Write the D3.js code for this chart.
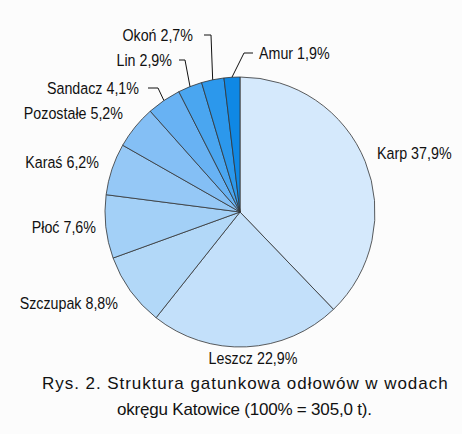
<!DOCTYPE html>
<html>
<head>
<meta charset="utf-8">
<script src="https://cdn.jsdelivr.net/npm/d3@7"></script>
<style>
  body { margin: 0; background: #fcfcfc; }
  svg { display: block; }
</style>
</head>
<body>
<div id="chart"></div>
<script>
// data (share of catch, %)
var species = ["Karp", "Leszcz", "Szczupak", "Płoć", "Karaś", "Pozostałe", "Sandacz", "Lin", "Okoń", "Amur"];
var shares = [37.9, 22.9, 8.8, 7.6, 6.2, 5.2, 4.1, 2.9, 2.7, 1.9];
var captionLines = ["Rys. 2. Struktura gatunkowa odłowów w wodach", "okręgu Katowice (100% = 305,0 t)."];

var palette = ["#d5e9fc", "#c3e0fa", "#b2d8f8", "#a3d0f7", "#95c8f6", "#84bff5", "#68b2f3", "#4aa6f0", "#2c98ec", "#0f88e5"];

var svgWidth = 462;
var svgHeight = 434;
var cx = 240, cy = 212, radius = 135;

// label placement: [x, y, anchor, elbowX1, elbowX2] (elbow null = no leader)
var labelLayout = [
  [377, 153, "start", null, null],
  [253, 358, "middle", null, null],
  [118, 303, "end", null, null],
  [96, 227, "end", null, null],
  [99, 162, "end", null, null],
  [123, 113, "end", null, null],
  [139, 88, "end", 148, 158],
  [172, 60, "end", 179, 185],
  [193, 35, "end", 204, 211],
  [259, 53, "start", 253, 244]
];

var data = species.map(function(s, i) { return { name: s, value: shares[i] }; });

var color = d3.scaleOrdinal().domain(species).range(palette);

var svg = d3.select("#chart")
  .append("svg")
  .attr("width", svgWidth)
  .attr("height", svgHeight);

svg.append("rect")
  .attr("width", svgWidth)
  .attr("height", svgHeight)
  .attr("fill", "#fcfcfc");

var pie = d3.pie().sort(null).value(function(d) { return d.value; });
var arc = d3.arc().innerRadius(0).outerRadius(radius);
var arcs = pie(data);

var pieGroup = svg.append("g")
  .attr("transform", "translate(" + cx + "," + cy + ")");

pieGroup.selectAll("path")
  .data(arcs)
  .enter()
  .append("path")
  .attr("d", arc)
  .attr("fill", function(d) { return color(d.data.name); })
  .attr("stroke", "#333")
  .attr("stroke-width", 0.8)
  .attr("stroke-linejoin", "round");

var fmt = d3.format(".1f");

// leader lines
arcs.forEach(function(d, i) {
  var lay = labelLayout[i];
  if (lay[3] === null) return;
  var mid = (d.startAngle + d.endAngle) / 2;
  var ex = cx + radius * Math.sin(mid);
  var ey = cy - radius * Math.cos(mid);
  var ly = lay[1];
  svg.append("polyline")
    .attr("points", [[lay[3], ly], [lay[4], ly], [ex, ey]].map(function(p) { return p.join(","); }).join(" "))
    .attr("fill", "none")
    .attr("stroke", "#111")
    .attr("stroke-width", 1);
});

// labels, squeezed horizontally to look like the narrow face of the original
svg.append("g")
  .selectAll("text")
  .data(arcs)
  .enter()
  .append("text")
  .attr("transform", function(d, i) {
    return "translate(" + labelLayout[i][0] + "," + labelLayout[i][1] + ") scale(0.84,1)";
  })
  .attr("dy", "0.36em")
  .attr("text-anchor", function(d, i) { return labelLayout[i][2]; })
  .style("font-family", "'Liberation Sans', Arial, sans-serif")
  .style("font-size", "17px")
  .style("fill", "#111")
  .text(function(d) { return d.data.name + " " + fmt(d.data.value).replace(".", ",") + "%"; });

// caption
svg.append("text")
  .attr("x", 42)
  .attr("y", 389)
  .style("font-family", "'Liberation Sans', Arial, sans-serif")
  .style("font-size", "17px")
  .style("letter-spacing", "0.95px")
  .style("fill", "#111")
  .text(captionLines[0]);

svg.append("text")
  .attr("x", 117)
  .attr("y", 415)
  .style("font-family", "'Liberation Sans', Arial, sans-serif")
  .style("font-size", "17px")
  .style("letter-spacing", "-0.2px")
  .style("fill", "#111")
  .text(captionLines[1]);
</script>
</body>
</html>
